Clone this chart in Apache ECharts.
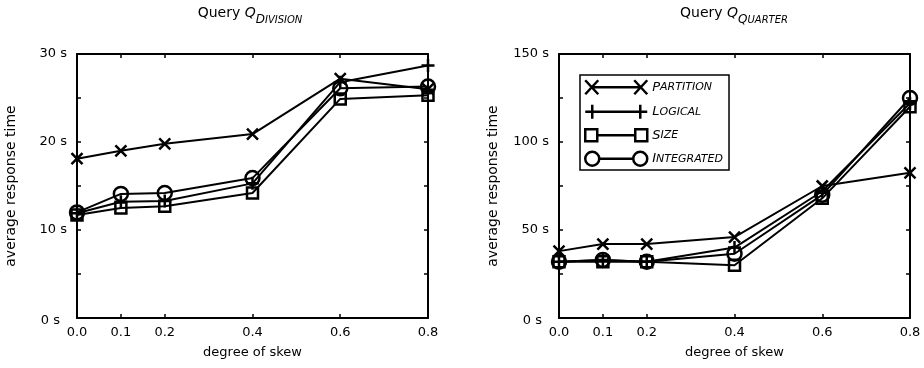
<!DOCTYPE html>
<html>
<head>
<meta charset="utf-8">
<script src="https://cdn.jsdelivr.net/npm/echarts@6/dist/echarts.min.js"></script>
<style>
  html, body { margin: 0; padding: 0; background: #fff; }
  #chart { width: 924px; height: 368px; }
</style>
</head>
<body>
<div id="chart"></div>
<script>
// degree of skew (x positions of the measurements)
const skew = [0.0, 0.1, 0.2, 0.4, 0.6, 0.8];
const seriesNames = ['PARTITION', 'LOGICAL', 'SIZE', 'INTEGRATED'];

// Query Q_DIVISION, average response time in seconds
const divPartition = [18.1, 19.0, 19.8, 20.9, 27.2, 26.0];
const divLogical = [11.9, 13.2, 13.3, 15.3, 26.8, 28.7];
const divSize = [11.7, 12.5, 12.7, 14.2, 24.9, 25.3];
const divIntegrated = [12.0, 14.1, 14.2, 15.9, 26.1, 26.3];

// Query Q_QUARTER, average response time in seconds
const qtrPartition = [38, 42, 42, 46, 75, 82.5];
const qtrLogical = [32, 33, 32, 40, 72, 122];
const qtrSize = [32, 32, 32, 30, 68, 120];
const qtrIntegrated = [32, 33, 32, 36.5, 70, 125];

const FONT = 'DejaVu Sans';

// marker shapes: x, plus, hollow square, hollow circle
const markers = {
  PARTITION: { symbol: 'path://M0,0L10,10M10,0L0,10', size: 11 },
  LOGICAL: { symbol: 'path://M5,0L5,10M0,5L10,5', size: 13 },
  SIZE: { symbol: 'rect', size: 11 },
  INTEGRATED: { symbol: 'circle', size: 14 },
};
// legend icons: marker - line - marker, 62 x 14
const legendIcons = {
  PARTITION: 'path://M0,0L13,14M13,0L0,14M6.5,7L55.5,7M49,0L62,14M62,0L49,14',
  LOGICAL: 'path://M7,0L7,14M0,7L62,7M55,0L55,14',
  SIZE: 'path://M0,1L12,1L12,13L0,13ZM50,1L62,1L62,13L50,13ZM12,7L50,7',
  INTEGRATED: 'path://M0,7A7,7,0,1,1,14,7A7,7,0,1,1,0,7ZM48,7A7,7,0,1,1,62,7A7,7,0,1,1,48,7ZM14,7L48,7',
};

const chart = echarts.init(document.getElementById('chart'));

const xAxis = (gridIndex, position) => ({
  type: 'value',
  gridIndex,
  position,
  min: 0,
  max: 0.8,
  name: position === 'bottom' ? 'degree of skew' : '',
  nameLocation: 'middle',
  nameGap: 28,
  nameTextStyle: { color: '#000', fontSize: 13, fontFamily: FONT },
  axisLine: { onZero: false, lineStyle: { color: '#000', width: 2 } },
  axisTick: { show: true, inside: true, length: 4, customValues: skew, lineStyle: { color: '#000', width: 1.5 } },
  axisLabel: {
    show: position === 'bottom',
    customValues: skew,
    formatter: v => v.toFixed(1),
    margin: 8,
    color: '#000',
    fontSize: 13,
    fontFamily: FONT,
  },
  splitLine: { show: false },
});

const yAxis = (gridIndex, position, max, interval, labelStep) => ({
  type: 'value',
  gridIndex,
  position,
  min: 0,
  max,
  interval,
  name: position === 'left' ? 'average response time' : '',
  nameLocation: 'middle',
  nameGap: 59,
  nameTextStyle: { color: '#000', fontSize: 14, fontFamily: FONT },
  axisLine: { onZero: false, lineStyle: { color: '#000', width: 2 } },
  axisTick: { show: true, inside: true, length: 4, lineStyle: { color: '#000', width: 1.5 } },
  axisLabel: {
    show: position === 'left',
    margin: 10,
    color: '#000',
    fontSize: 13,
    fontFamily: FONT,
    formatter: v => (v % labelStep !== 0 ? '' : v === 0 ? '{z|0 s}' : v + ' s'),
    rich: { z: { fontSize: 13, fontFamily: FONT, color: '#000', padding: [5, 7, 0, 0] } },
  },
  splitLine: { show: false },
});

const makeSeries = (name, values, axisIndex) => ({
  name,
  type: 'line',
  xAxisIndex: axisIndex,
  yAxisIndex: axisIndex,
  data: skew.map((x, i) => [x, values[i]]),
  symbol: markers[name].symbol,
  symbolSize: markers[name].size,
  lineStyle: { color: '#000', width: 2 },
  itemStyle: { color: 'rgba(0,0,0,0)', borderColor: '#000', borderWidth: 2.5 },
  emphasis: { disabled: true },
  animation: false,
});

const titleRich = {
  a: { fontSize: 14, fontFamily: FONT, fontWeight: 'normal', color: '#000' },
  b: { fontSize: 14, fontFamily: FONT, fontWeight: 'normal', fontStyle: 'italic', color: '#000' },
  c: { fontSize: 12, fontFamily: FONT, fontWeight: 'normal', fontStyle: 'italic', color: '#000', padding: [14, 0, 0, 0] },
  d: { fontSize: 10, fontFamily: FONT, fontWeight: 'normal', fontStyle: 'italic', color: '#000', padding: [14, 0, 0, 0] },
};

chart.setOption({
  animation: false,
  title: [
    { text: '{a|Query }{b|Q}{c|D}{d|IVISION}', left: 250, top: 0, padding: 0, textAlign: 'center', textStyle: { fontWeight: 'normal', rich: titleRich } },
    { text: '{a|Query }{b|Q}{c|Q}{d|UARTER}', left: 734, top: 0, padding: 0, textAlign: 'center', textStyle: { fontWeight: 'normal', rich: titleRich } },
  ],
  grid: [
    { left: 77, top: 54, width: 351, height: 264 },
    { left: 559, top: 54, width: 351, height: 264 },
  ],
  legend: {
    left: 580,
    top: 75,
    orient: 'vertical',
    itemWidth: 62,
    itemHeight: 14,
    itemGap: 8,
    padding: [4, 6, 3, 4],
    borderColor: '#000',
    borderWidth: 1.5,
    selectedMode: false,
    data: seriesNames.map(name => ({ name, icon: legendIcons[name] })),
    itemStyle: { color: '#fff', borderColor: '#000', borderWidth: 2.5 },
    formatter: name => `{f|${name[0]}}{r|${name.slice(1)}}`,
    textStyle: {
      rich: {
        f: { fontSize: 13, fontFamily: FONT, fontStyle: 'italic', color: '#000', lineHeight: 14 },
        r: { fontSize: 11, fontFamily: FONT, fontStyle: 'italic', color: '#000', lineHeight: 14 },
      },
    },
  },
  xAxis: [xAxis(0, 'bottom'), xAxis(0, 'top'), xAxis(1, 'bottom'), xAxis(1, 'top')],
  yAxis: [
    yAxis(0, 'left', 30, 5, 10),
    yAxis(0, 'right', 30, 5, 10),
    yAxis(1, 'left', 150, 25, 50),
    yAxis(1, 'right', 150, 25, 50),
  ],
  series: [
    makeSeries('PARTITION', divPartition, 0),
    makeSeries('LOGICAL', divLogical, 0),
    makeSeries('SIZE', divSize, 0),
    makeSeries('INTEGRATED', divIntegrated, 0),
    makeSeries('PARTITION', qtrPartition, 2),
    makeSeries('LOGICAL', qtrLogical, 2),
    makeSeries('SIZE', qtrSize, 2),
    makeSeries('INTEGRATED', qtrIntegrated, 2),
  ],
});
</script>
</body>
</html>
